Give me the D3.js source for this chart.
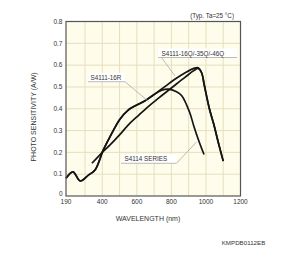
<!DOCTYPE html>
<html>
  <head>
    <script src="https://d3js.org/d3.v7.min.js"></script>
    <style>
      body { margin: 0; background: #fff; }
      text { font-family: "Liberation Sans", Arial, sans-serif; fill: #333; }
    </style>
  </head>
  <body>
    <div id='container'></div>

    <script type="text/javascript">
      // quartz window curve (S4111-16Q/-35Q/-46Q), starts in the UV
      var qNm  = [190, 230, 272, 320, 358, 406, 445, 500, 550, 600, 650, 705, 760, 820, 880, 930, 955, 975, 990, 1020, 1045, 1070, 1100];
      var qVal = [0.081, 0.111, 0.069, 0.096, 0.119, 0.211, 0.272, 0.35, 0.394, 0.417, 0.438, 0.468, 0.5, 0.535, 0.565, 0.585, 0.588, 0.565, 0.51, 0.40, 0.33, 0.25, 0.16];

      // S4114 series: same UV part, then lower peak
      var s4114Nm  = [190, 230, 272, 320, 358, 406, 445, 500, 550, 600, 650, 705, 745, 781, 830, 860, 905, 930, 960, 989];
      var s4114Val = [0.081, 0.111, 0.069, 0.096, 0.119, 0.211, 0.272, 0.35, 0.394, 0.417, 0.438, 0.468, 0.485, 0.49, 0.478, 0.46, 0.385, 0.32, 0.25, 0.19];

      // S4111-16R (resin window)
      var rNm  = [340, 406, 445, 500, 551, 610, 666, 720, 800, 880, 930, 955, 975, 990, 1020, 1045, 1070, 1100];
      var rVal = [0.15, 0.205, 0.234, 0.28, 0.326, 0.37, 0.41, 0.445, 0.495, 0.545, 0.575, 0.585, 0.565, 0.51, 0.40, 0.33, 0.25, 0.16];

      var xTicks = [190, 400, 600, 800, 1000, 1200];
      var xGrid = [300, 400, 500, 600, 700, 800, 900, 1000, 1100];
      var yTicks = [0, 0.1, 0.2, 0.3, 0.4, 0.5, 0.6, 0.7, 0.8];

      var width = 300,
          height = 269;
      var svg = d3.select("#container").append("svg")
        .attr("width", width)
        .attr("height", height);

      var x = d3.scaleLinear().domain([190, 1200]).range([66, 240.5]);
      var y = d3.scaleLinear().domain([0, 0.8]).range([196, 21.5]);

      // plot background
      svg.append("rect")
        .attr("x", x(190)).attr("y", y(0.8))
        .attr("width", x(1200) - x(190))
        .attr("height", y(0) - y(0.8))
        .attr("fill", "#fefcea");

      // grid
      svg.selectAll("line.vg").data(xGrid).enter().append("line")
        .attr("class", "vg")
        .attr("x1", function(d) { return x(d); })
        .attr("x2", function(d) { return x(d); })
        .attr("y1", y(0)).attr("y2", y(0.8))
        .attr("stroke", "#e6dfbf").attr("stroke-width", 1);
      svg.selectAll("line.hg").data(yTicks.slice(1, -1)).enter().append("line")
        .attr("class", "hg")
        .attr("x1", x(190)).attr("x2", x(1200))
        .attr("y1", function(d) { return y(d); })
        .attr("y2", function(d) { return y(d); })
        .attr("stroke", "#e6dfbf").attr("stroke-width", 1);

      // curves
      var line = d3.line()
        .x(function(d) { return x(d[0]); })
        .y(function(d) { return y(d[1]); })
        .curve(d3.curveCatmullRom.alpha(0.5));

      [[qNm, qVal], [s4114Nm, s4114Val], [rNm, rVal]].forEach(function(s) {
        svg.append("path")
          .datum(d3.zip(s[0], s[1]))
          .attr("d", line)
          .attr("fill", "none")
          .attr("stroke", "#151515")
          .attr("stroke-width", 1.7);
      });

      // frame
      svg.append("rect")
        .attr("x", x(190)).attr("y", y(0.8))
        .attr("width", x(1200) - x(190))
        .attr("height", y(0) - y(0.8))
        .attr("fill", "none")
        .attr("stroke", "#555").attr("stroke-width", 1.2);

      // tick labels
      svg.selectAll("text.xt").data(xTicks).enter().append("text")
        .attr("class", "xt")
        .attr("x", function(d) { return x(d); })
        .attr("y", 204)
        .attr("text-anchor", "middle")
        .attr("font-size", 6.5)
        .text(function(d) { return d; });
      svg.selectAll("text.yt").data(yTicks).enter().append("text")
        .attr("class", "yt")
        .attr("x", 62.5)
        .attr("y", function(d) { return d === 0 ? y(d) - 0.5 : y(d) + 2.3; })
        .attr("text-anchor", "end")
        .attr("font-size", 6.5)
        .text(function(d) { return d === 0 ? "0" : d.toFixed(1); });

      // axis titles
      svg.append("text")
        .attr("x", 148).attr("y", 221)
        .attr("text-anchor", "middle")
        .attr("font-size", 7)
        .text("WAVELENGTH (nm)");
      svg.append("text")
        .attr("transform", "translate(36,117) rotate(-90)")
        .attr("text-anchor", "middle")
        .attr("font-size", 7)
        .text("PHOTO SENSITIVITY (A/W)");

      svg.append("text")
        .attr("x", 234).attr("y", 17.5)
        .attr("text-anchor", "end")
        .attr("font-size", 6.3)
        .text("(Typ. Ta=25 \u00B0C)");

      svg.append("text")
        .attr("x", 243.5).attr("y", 244.5)
        .attr("text-anchor", "middle")
        .attr("font-size", 6.2)
        .text("KMPDB0112EB");

      // curve labels with leaders
      var labels = [
        { text: "S4111-16Q/-35Q/-46Q", tx: 161.5, ty: 55.5, x0: 158, x1: 237, ly: 57.5, from: [161.5, 57.5], to: [175, 76] },
        { text: "S4111-16R", tx: 90.5, ty: 79.8, x0: 88, x1: 125, ly: 81.7, from: [125, 81.7], to: [148.5, 101.5] },
        { text: "S4114 SERIES", tx: 124.5, ty: 161.3, x0: 121, x1: 176.5, ly: 163.3, from: [176.5, 163.3], to: [196.5, 142] }
      ];
      labels.forEach(function(l) {
        svg.append("rect")
          .attr("x", l.x0).attr("y", l.ly - 9)
          .attr("width", l.x1 - l.x0).attr("height", 9)
          .attr("fill", "#fff");
        svg.append("line")
          .attr("x1", l.x0).attr("x2", l.x1)
          .attr("y1", l.ly).attr("y2", l.ly)
          .attr("stroke", "#aaa").attr("stroke-width", 0.8);
        svg.append("line")
          .attr("x1", l.from[0]).attr("y1", l.from[1])
          .attr("x2", l.to[0]).attr("y2", l.to[1])
          .attr("stroke", "#aaa").attr("stroke-width", 0.8);
        svg.append("text")
          .attr("x", l.tx).attr("y", l.ty)
          .attr("font-size", 6.3)
          .text(l.text);
      });
    </script>
  </body>
</html>
